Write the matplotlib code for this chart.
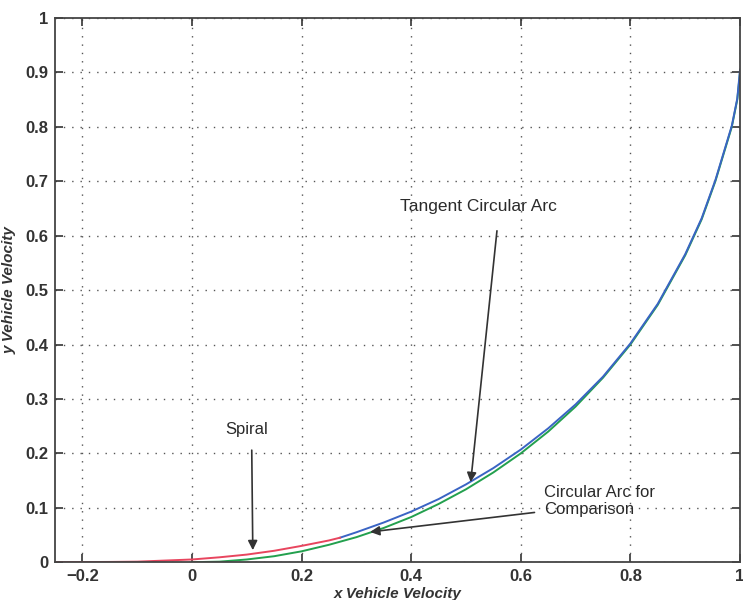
import numpy as np
from matplotlib import pyplot as plt

# curve samples
spiral_x = [-0.25, -0.15, -0.1, -0.05, 0.0, 0.05, 0.1, 0.15, 0.2, 0.25, 0.27]
spiral_y = [0.0, 0.0005, 0.001, 0.003, 0.005, 0.009, 0.014, 0.021, 0.030, 0.040, 0.045]

tangent_x = [0.27, 0.3, 0.35, 0.4, 0.45, 0.5, 0.55, 0.6, 0.65, 0.7, 0.75, 0.8, 0.85, 0.9,
             0.93, 0.955, 0.97, 0.985, 0.995, 1.0]
tangent_y = [0.045, 0.055, 0.073, 0.093, 0.116, 0.143, 0.173, 0.207, 0.246, 0.290, 0.341, 0.402,
             0.475, 0.566, 0.632, 0.702, 0.752, 0.802, 0.852, 0.905]

compare_x = [0.0, 0.05, 0.1, 0.15, 0.2, 0.25, 0.3, 0.35, 0.4, 0.45, 0.5, 0.55, 0.6, 0.65, 0.7,
             0.75, 0.8, 0.85, 0.9, 0.93, 0.955, 0.97, 0.985, 0.995, 1.0]
compare_y = [0.0, 0.001, 0.005, 0.011, 0.020, 0.032, 0.046, 0.063, 0.083, 0.107, 0.134, 0.165,
             0.200, 0.240, 0.286, 0.339, 0.400, 0.473, 0.564, 0.630, 0.700, 0.750, 0.800, 0.850, 0.90]

xticks = [-0.2, 0, 0.2, 0.4, 0.6, 0.8, 1]
xtick_labels = ["\u22120.2", "0", "0.2", "0.4", "0.6", "0.8", "1"]
yticks = [0, 0.1, 0.2, 0.3, 0.4, 0.5, 0.6, 0.7, 0.8, 0.9, 1]
ytick_labels = ["0", "0.1", "0.2", "0.3", "0.4", "0.5", "0.6", "0.7", "0.8", "0.9", "1"]

if __name__ == '__main__':
    plt.rcParams['font.family'] = ['Liberation Sans', 'DejaVu Sans']
    fig = plt.figure(figsize=(7.43, 6.0), dpi=100)
    ax = fig.add_axes([0.074, 0.063, 0.922, 0.907])

    ax.plot(compare_x, compare_y, "-", color="#23a04e", lw=1.4)
    ax.plot(tangent_x, tangent_y, "-", color="#3a64c4", lw=1.4)
    ax.plot(spiral_x, spiral_y, "-", color="#e8455e", lw=1.4)

    ax.set_xlim(-0.25, 1.0)
    ax.set_ylim(0, 1)
    ax.set_xticks(xticks)
    ax.set_xticklabels(xtick_labels)
    ax.set_yticks(yticks)
    ax.set_yticklabels(ytick_labels)
    ax.tick_params(direction="in", length=6, width=1.2, top=True, right=True,
                   labelsize=12, colors="#333333", pad=5)
    for lab in ax.get_xticklabels() + ax.get_yticklabels():
        lab.set_fontweight("bold")
    for s in ax.spines.values():
        s.set_color("#444444")
        s.set_linewidth(1.3)
    ax.grid(True, linestyle=(0, (1, 5)), color="#555555", linewidth=1.0)

    ax.set_xlabel("x Vehicle Velocity", fontsize=11, fontstyle="italic",
                  fontweight="bold", color="#333333", labelpad=2)
    ax.set_ylabel("y Vehicle Velocity", fontsize=11, fontstyle="italic",
                  fontweight="bold", color="#333333")
    ax.yaxis.set_label_coords(-0.056, 0.5)

    arrow = dict(arrowstyle="-|>", color="#333333", lw=1.2, mutation_scale=14)
    ax.annotate("", xy=(0.508, 0.142), xytext=(0.557, 0.614), arrowprops=arrow)
    ax.text(0.523, 0.653, "Tangent Circular Arc", ha="center", va="center",
            fontsize=12.5, color="#2a2a2a")
    ax.annotate("", xy=(0.111, 0.017), xytext=(0.109, 0.211), arrowprops=arrow)
    ax.text(0.10, 0.243, "Spiral", ha="center", va="center",
            fontsize=12, color="#2a2a2a")
    ax.annotate("", xy=(0.32, 0.055), xytext=(0.63, 0.092), arrowprops=arrow)
    ax.text(0.643, 0.112, "Circular Arc for\nComparison", ha="left", va="center",
            fontsize=12, color="#2a2a2a", linespacing=1.2)

    plt.savefig("out.png", dpi=100)
